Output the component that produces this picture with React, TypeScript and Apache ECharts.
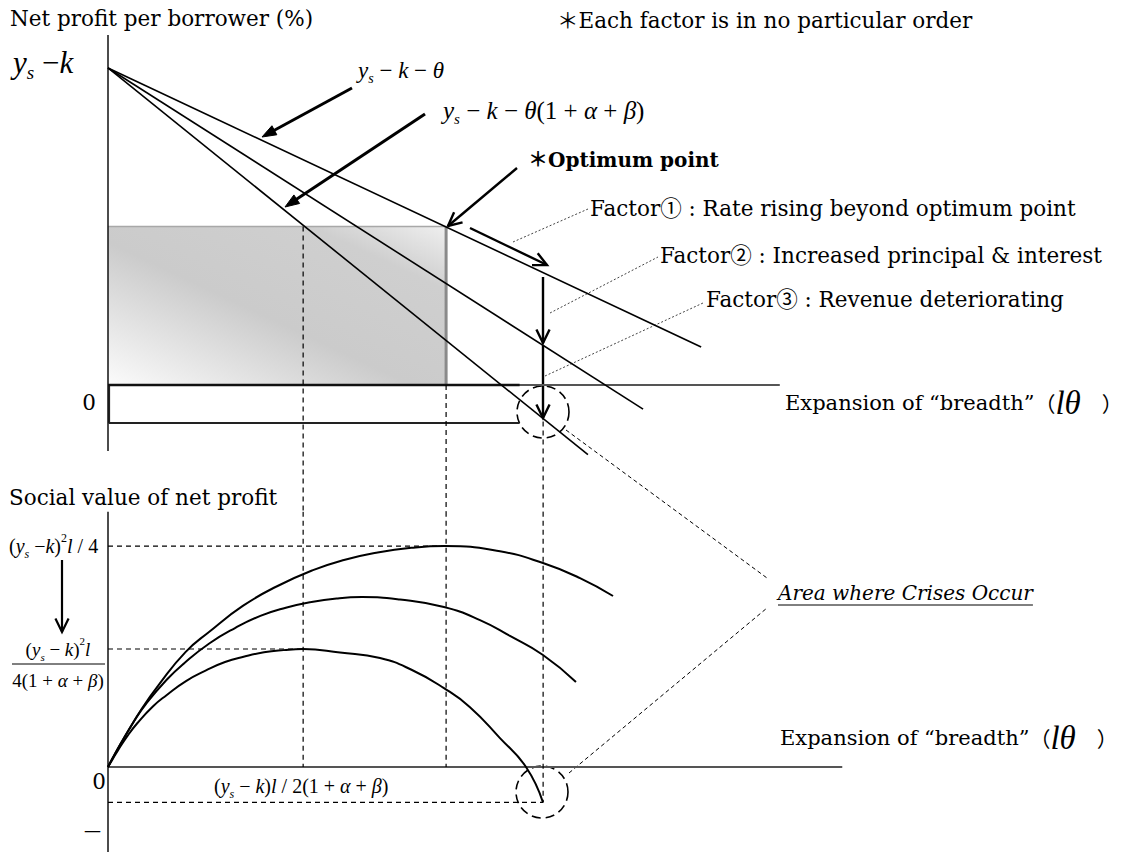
import React, { useEffect, useRef } from "react";
import * as echarts from "echarts";

// ---------- data ----------
// x: expansion of "breadth" (0..100), top y: net profit per borrower, bottom y: social value
const breadthRange = [0, 100];
const profitRange = [-4, 11.1];
const socialRange = [-3.9, 11.55];

const lineTheta = [[0, 10], [80.7, 1.2]]; // y_s - k - θ
const lineMiddle = [[0, 10], [72.8, -0.76]];
const lineThetaAB = [[0, 10], [65.3, -2.2]]; // y_s - k - θ(1+α+β)

const optimumBreadth = 46;
const optimumProfit = 5.0;
const lowPeakBreadth = 26.55;
const crisisBreadth = 59.2;
const crisisProfit = -1.15;
const lowerBoxDepth = -1.2;
const lowerBoxEnd = 56;
const topAxisEnd = 91.4;

const socialTop = [
  [0, 0], [0.91, 0.57], [2.3, 1.38], [4.59, 2.64], [6.88, 3.71], [10.54, 5.2], [13.74, 6.11],
  [18.34, 7.29], [22.93, 8.17], [27.89, 8.91], [32.1, 9.37], [36.68, 9.71], [41.27, 9.92],
  [45.85, 10.0], [53.33, 9.76], [59.18, 9.23], [64.22, 8.55], [68.71, 7.74],
];
const socialMid = [
  [0, 0], [0.69, 0.44], [1.73, 1.06], [3.46, 2.03], [5.18, 2.86], [7.95, 3.94], [10.37, 4.7],
  [13.82, 5.6], [17.28, 6.29], [20.73, 6.84], [24.19, 7.21], [27.65, 7.47], [31.1, 7.63],
  [34.56, 7.69], [39.73, 7.58], [45.71, 7.24], [50.61, 6.65], [54.69, 5.93], [59.18, 5.07], [63.67, 3.85],
];
const socialLow = [
  [0, 0], [0.53, 0.3], [1.33, 0.74], [2.65, 1.41], [3.98, 1.98], [6.1, 2.74], [7.96, 3.25],
  [10.61, 3.89], [13.27, 4.36], [15.92, 4.75], [18.57, 5.0], [21.22, 5.19], [23.88, 5.29],
  [26.53, 5.34], [31.56, 5.18], [37.01, 4.93], [41.36, 4.39], [45.71, 3.57], [49.25, 2.71],
  [53.33, 1.31], [56.87, 0], [59.18, -1.6],
];
const socialPeakTop = 10.0;
const socialPeakLow = 5.34;
const socialCrisis = -1.6;

// ---------- helpers ----------
const SERIF = "'DejaVu Serif', 'Noto Sans CJK JP', serif";
const MATH = "'Liberation Serif', 'Times New Roman', serif";
const CJK = "'Noto Sans CJK JP', sans-serif";
const BODY = 21.5;

function seg(name: string, gridIndex: number, data: number[][], color: string, width: number, type: any = "solid", extra: any = {}) {
  return {
    name,
    type: "line",
    xAxisIndex: gridIndex,
    yAxisIndex: gridIndex,
    data,
    showSymbol: false,
    symbol: "none",
    silent: true,
    lineStyle: { color, width, type },
    z: 3,
    ...extra,
  };
}

function arrowV(x1: number, y1: number, x2: number, y2: number, len = 15, ang = 26, w = 2.4) {
  const a = Math.atan2(y2 - y1, x2 - x1);
  const r = (ang * Math.PI) / 180;
  const p1 = [x2 - len * Math.cos(a - r), y2 - len * Math.sin(a - r)];
  const p2 = [x2 - len * Math.cos(a + r), y2 - len * Math.sin(a + r)];
  return [
    { type: "line", silent: true, shape: { x1, y1, x2, y2 }, style: { stroke: "#000", lineWidth: w } },
    { type: "polyline", silent: true, shape: { points: [p1, [x2, y2], p2] }, style: { stroke: "#000", lineWidth: w, fill: null } },
  ];
}

function arrowFilled(x1: number, y1: number, x2: number, y2: number, len = 15, ang = 20, w = 3) {
  const a = Math.atan2(y2 - y1, x2 - x1);
  const r = (ang * Math.PI) / 180;
  const p1 = [x2 - len * Math.cos(a - r), y2 - len * Math.sin(a - r)];
  const p2 = [x2 - len * Math.cos(a + r), y2 - len * Math.sin(a + r)];
  const bx = x2 - len * 0.8 * Math.cos(a);
  const by = y2 - len * 0.8 * Math.sin(a);
  return [
    { type: "line", silent: true, shape: { x1, y1, x2: bx, y2: by }, style: { stroke: "#000", lineWidth: w } },
    { type: "polygon", silent: true, shape: { points: [p1, [x2, y2], p2] }, style: { fill: "#000", stroke: "#000", lineWidth: 1 } },
  ];
}

function mathRich(size: number) {
  const sub = Math.round(size * 0.6);
  return {
    i: { fontFamily: MATH, fontStyle: "italic", fontSize: size, lineHeight: size + 8, fill: "#000" },
    n: { fontFamily: MATH, fontSize: size, lineHeight: size + 8, fill: "#000" },
    s: { fontFamily: MATH, fontStyle: "italic", fontSize: sub, lineHeight: sub, verticalAlign: "bottom", fill: "#000" },
    p: { fontFamily: MATH, fontSize: sub, lineHeight: sub, verticalAlign: "top", fill: "#000" },
  };
}

function txt(x: number, y: number, text: string, size = BODY, extra: any = {}, align = "left") {
  return {
    type: "text",
    silent: true,
    x,
    y,
    style: { text, fontFamily: SERIF, fontSize: size, fill: "#000", align, verticalAlign: "middle", ...extra },
  };
}

function mathTxt(x: number, y: number, text: string, size: number, align = "left") {
  return {
    type: "text",
    silent: true,
    x,
    y,
    style: { text, rich: mathRich(size), align, verticalAlign: "middle", fill: "#000" },
  };
}

function measure(text: string, font: string) {
  const c = document.createElement("canvas").getContext("2d");
  if (!c) return 200;
  c.font = font;
  return c.measureText(text).width;
}

export default function App() {
  const ref = useRef<HTMLDivElement>(null);

  useEffect(() => {
    if (!ref.current) return;
    const chart = echarts.init(ref.current, null, { renderer: "svg" });

    const crisisText = "Area where Crises Occur";
    const crisisFont = `italic 20px ${SERIF}`;
    const crisisW = measure(crisisText, crisisFont);
    const crisisX = 778;
    const crisisY = 593;

    const expansion = "{t|Expansion of “breadth”}{c|（}{i|lθ}{c|　）}";
    const expansionRich = {
      t: { fontFamily: SERIF, fontSize: 21, fill: "#000" },
      c: { fontFamily: CJK, fontSize: 21, fill: "#000" },
      i: { fontFamily: MATH, fontStyle: "italic", fontSize: 33, fill: "#000" },
    };

    const series: any[] = [
      // shaded optimum box
      seg("optimumBox", 0, [[0, optimumProfit], [optimumBreadth, optimumProfit]], "#a8a8a8", 1.5, "solid", {
        areaStyle: {
          opacity: 1,
          color: new echarts.graphic.LinearGradient(0, 1, 1, 0, [
            { offset: 0, color: "#fbfbfb" },
            { offset: 0.45, color: "#cbcbcb" },
            { offset: 0.8, color: "#cfcfcf" },
            { offset: 1, color: "#efefef" },
          ]),
        },
        z: 1,
      }),
      seg("optimumEdge", 0, [[optimumBreadth, optimumProfit], [optimumBreadth, 0]], "#8a8a8a", 3),
      // lower white box
      seg("lowerBox", 0, [[0.15, 0], [0.15, lowerBoxDepth], [lowerBoxEnd, lowerBoxDepth]], "#222", 2),
      // axes of top panel
      seg("topXAxis", 0, [[0, 0], [topAxisEnd, 0]], "#555", 2),
      seg("topXAxisDark", 0, [[0, 0], [lowerBoxEnd, 0]], "#111", 2.5),
      seg("topYAxis", 0, [[0, 11.04], [0, -2.08]], "#111", 1.5),
      // reference dashed lines in top panel
      seg("refLowTop", 0, [[lowPeakBreadth, optimumProfit], [lowPeakBreadth, profitRange[0]]], "#000", 1.2, [5, 4]),
      seg("refOptTop", 0, [[optimumBreadth, 0], [optimumBreadth, profitRange[0]]], "#000", 1.2, [5, 4]),
      seg("refCrisisTop", 0, [[crisisBreadth, crisisProfit], [crisisBreadth, profitRange[0]]], "#000", 1.2, [5, 4]),
      // net profit lines
      seg("y_s-k-θ", 0, lineTheta, "#000", 1.6),
      seg("middle", 0, lineMiddle, "#000", 1.6),
      seg("y_s-k-θ(1+α+β)", 0, lineThetaAB, "#000", 1.6),
      // bottom panel axes
      seg("botXAxis", 1, [[0, 0], [99.9, 0]], "#555", 2),
      seg("botYAxis", 1, [[0, socialRange[1]], [0, -3.85]], "#111", 1.5),
      // bottom panel references
      seg("refLowBot", 1, [[lowPeakBreadth, socialRange[1]], [lowPeakBreadth, 0]], "#000", 1.2, [5, 4]),
      seg("refOptBot", 1, [[optimumBreadth, socialRange[1]], [optimumBreadth, 0]], "#000", 1.2, [5, 4]),
      seg("refCrisisBot", 1, [[crisisBreadth, socialRange[1]], [crisisBreadth, socialCrisis]], "#000", 1.2, [5, 4]),
      seg("hPeakTop", 1, [[0, socialPeakTop], [45.85, socialPeakTop]], "#000", 1.2, [5, 4]),
      seg("hPeakLow", 1, [[0, socialPeakLow], [lowPeakBreadth, socialPeakLow]], "#000", 1.2, [5, 4]),
      seg("hCrisis", 1, [[0, socialCrisis], [crisisBreadth, socialCrisis]], "#000", 1.2, [5, 4]),
      // social value curves
      seg("socialTop", 1, socialTop, "#000", 2, "solid", { smooth: 0.5 }),
      seg("socialMid", 1, socialMid, "#000", 2, "solid", { smooth: 0.5 }),
      seg("socialLow", 1, socialLow, "#000", 2, "solid", { smooth: 0.5 }),
    ];

    const graphic: any[] = [
      // titles
      txt(10, 18, "Net profit per borrower (%)", BODY),
      txt(557, 20, "＊Each factor is in no particular order", BODY),
      mathTxt(13, 62, "{i|y}{s|s}{n| −}{i|k}", 31),
      mathTxt(358, 70, "{i|y}{s|s}{n| − }{i|k}{n| − }{i|θ}", 23),
      mathTxt(443, 110, "{i|y}{s|s}{n| − }{i|k}{n| − }{i|θ}{n|(1 + }{i|α}{n| + }{i|β}{n|)}", 25),
      txt(528, 160, "＊Optimum point", 20, { fontWeight: "bold" }),
      txt(590, 208, "Factor① : Rate rising beyond optimum point", BODY),
      txt(660, 255, "Factor② : Increased principal & interest", BODY),
      txt(706, 299, "Factor③ : Revenue deteriorating", BODY),
      txt(96, 402, "0", BODY, {}, "right"),
      {
        type: "text", silent: true, x: 785, y: 403,
        style: { text: expansion, rich: expansionRich, align: "left", verticalAlign: "middle" },
      },
      txt(9, 497, "Social value of net profit", BODY),
      mathTxt(9, 546, "{n|(}{i|y}{s|s}{n| −}{i|k}{n|)}{p|2}{i|l}{n| / 4}", 20),
      mathTxt(58, 649, "{n|(}{i|y}{s|s}{n| − }{i|k}{n|)}{p|2}{i|l}", 19, "center"),
      { type: "line", silent: true, shape: { x1: 12, y1: 664, x2: 105, y2: 664 }, style: { stroke: "#000", lineWidth: 1 } },
      mathTxt(58, 680, "{n|4(1 + }{i|α}{n| + }{i|β}{n|)}", 19, "center"),
      txt(106, 781, "0", BODY, {}, "right"),
      mathTxt(214, 786, "{n|(}{i|y}{s|s}{n| − }{i|k}{n|)}{i|l}{n| / 2(1 + }{i|α}{n| + }{i|β}{n|)}", 20),
      txt(84, 830, "—", 17),
      {
        type: "text", silent: true, x: 780, y: 738,
        style: { text: expansion, rich: expansionRich, align: "left", verticalAlign: "middle" },
      },
      txt(crisisX, crisisY, crisisText, 20, { fontStyle: "italic" }),
      { type: "line", silent: true, shape: { x1: crisisX, y1: crisisY + 12, x2: crisisX + crisisW, y2: crisisY + 12 }, style: { stroke: "#000", lineWidth: 1 } },
      // arrows
      ...arrowFilled(352, 88, 262, 137),
      ...arrowFilled(425, 114, 285, 207),
      ...arrowV(517, 168, 448, 226),
      ...arrowV(470, 228, 547, 265),
      ...arrowV(543, 277, 543, 343),
      ...arrowV(543, 345, 543, 418),
      ...arrowV(62, 560, 62, 632, 15, 26, 2.2),
      // dotted leaders
      { type: "line", silent: true, shape: { x1: 513, y1: 242, x2: 588, y2: 209 }, style: { stroke: "#444", lineWidth: 1, lineDash: [2, 2] } },
      { type: "line", silent: true, shape: { x1: 550, y1: 313, x2: 658, y2: 257 }, style: { stroke: "#444", lineWidth: 1, lineDash: [2, 2] } },
      { type: "line", silent: true, shape: { x1: 545, y1: 376, x2: 703, y2: 303 }, style: { stroke: "#444", lineWidth: 1, lineDash: [2, 2] } },
      // crisis circles and connectors
      { type: "circle", silent: true, shape: { cx: 543, cy: 412, r: 26 }, style: { fill: null, stroke: "#000", lineWidth: 1.6, lineDash: [9, 5] } },
      { type: "circle", silent: true, shape: { cx: 542, cy: 792, r: 26 }, style: { fill: null, stroke: "#000", lineWidth: 1.6, lineDash: [9, 5] } },
      { type: "line", silent: true, shape: { x1: 566, y1: 430, x2: 767, y2: 578 }, style: { stroke: "#000", lineWidth: 1, lineDash: [4, 3] } },
      { type: "line", silent: true, shape: { x1: 569, y1: 773, x2: 767, y2: 608 }, style: { stroke: "#000", lineWidth: 1, lineDash: [4, 3] } },
    ];

    chart.setOption({
      animation: false,
      backgroundColor: "#fff",
      grid: [
        { left: 108, top: 33.1, width: 735, height: 478.7 },
        { left: 108, top: 511.8, width: 735, height: 341.4 },
      ],
      xAxis: [
        { type: "value", gridIndex: 0, min: breadthRange[0], max: breadthRange[1], show: false },
        { type: "value", gridIndex: 1, min: breadthRange[0], max: breadthRange[1], show: false },
      ],
      yAxis: [
        { type: "value", gridIndex: 0, min: profitRange[0], max: profitRange[1], show: false },
        { type: "value", gridIndex: 1, min: socialRange[0], max: socialRange[1], show: false },
      ],
      series,
      graphic,
    });

    return () => chart.dispose();
  }, []);

  return (
    <div
      ref={ref}
      style={{ position: "fixed", left: 0, top: 0, width: 1147, height: 855, background: "#fff" }}
    />
  );
}
